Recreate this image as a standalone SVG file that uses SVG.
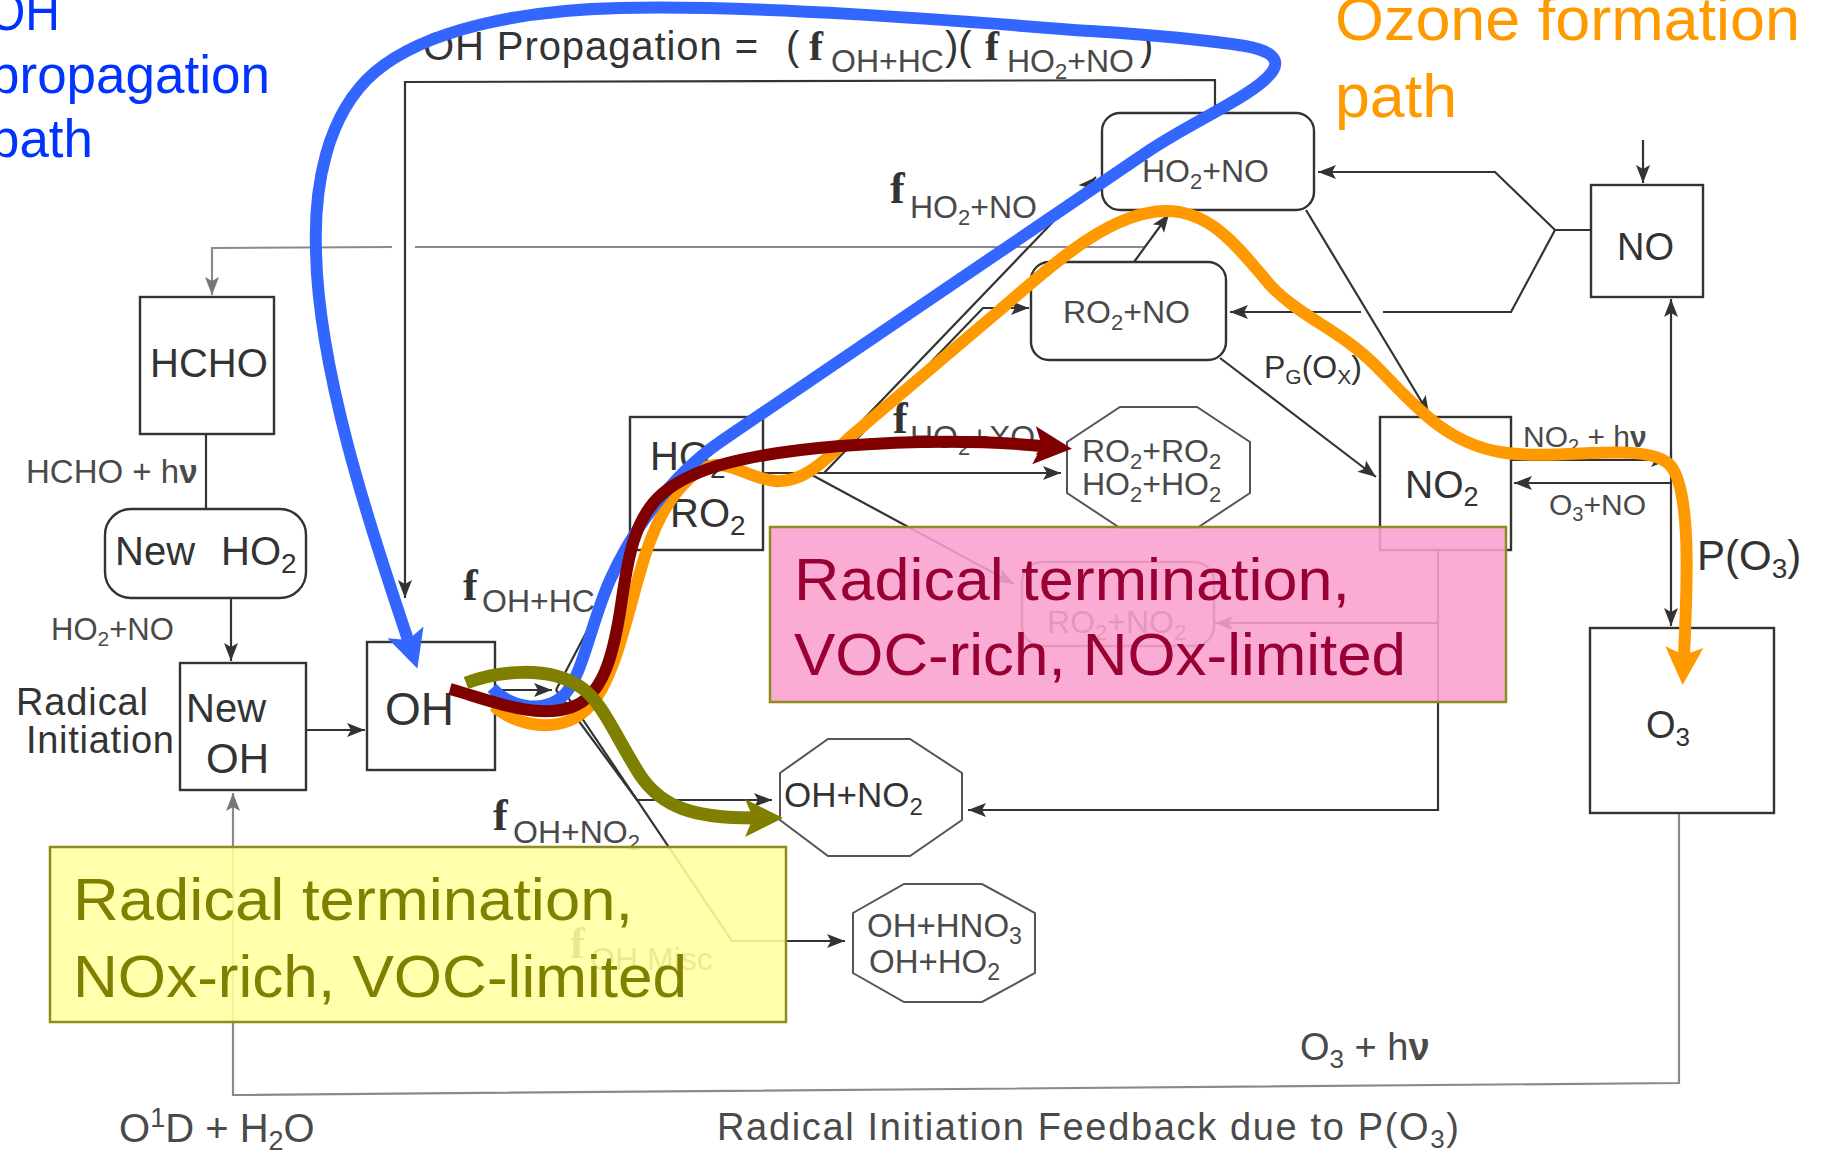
<svg xmlns="http://www.w3.org/2000/svg" width="1825" height="1156" viewBox="0 0 1825 1156">
<defs>
<style>
.ln{fill:none;stroke:#333;stroke-width:2.2}
.lg{fill:none;stroke:#8a8a8a;stroke-width:2.2}
.bx{fill:#fff;stroke:#333;stroke-width:2.4}
.oc{fill:#fff;stroke:#555;stroke-width:2}
.t{font-family:"Liberation Sans",Arial,sans-serif;fill:#333}
.t2{font-family:"Liberation Sans",Arial,sans-serif;fill:#4a4a4a}
.f{font-family:"Liberation Serif","Times New Roman",serif;font-weight:bold;fill:#333}
.cv{fill:none;stroke-linejoin:round}
.ann{font-family:"Liberation Sans Narrow","Liberation Sans",Arial,sans-serif}
</style>
<marker id="ah" viewBox="-2 -9 22 18" refX="18" refY="0" markerWidth="22" markerHeight="18" markerUnits="userSpaceOnUse" orient="auto"><path d="M0,-7 L18,0 L0,7 L4,0 z" fill="#333"/></marker>
<marker id="ahg" viewBox="-2 -9 22 18" refX="18" refY="0" markerWidth="22" markerHeight="18" markerUnits="userSpaceOnUse" orient="auto"><path d="M0,-7 L18,0 L0,7 L4,0 z" fill="#777"/></marker>
<marker id="mb" viewBox="-10 -21 42 42" refX="0" refY="0" markerWidth="42" markerHeight="42" markerUnits="userSpaceOnUse" orient="auto" overflow="visible"><path d="M-8,-19 L30,0 L-8,19 L0,0 z" fill="#3366FF"/></marker>
<marker id="mr" viewBox="-10 -21 42 42" refX="0" refY="0" markerWidth="42" markerHeight="42" markerUnits="userSpaceOnUse" orient="auto" overflow="visible"><path d="M-8,-19 L30,0 L-8,19 L0,0 z" fill="#800000"/></marker>
<marker id="mo" viewBox="-10 -21 42 42" refX="0" refY="0" markerWidth="42" markerHeight="42" markerUnits="userSpaceOnUse" orient="auto" overflow="visible"><path d="M-8,-19 L30,0 L-8,19 L0,0 z" fill="#FF9900"/></marker>
<marker id="mv" viewBox="-10 -21 42 42" refX="0" refY="0" markerWidth="42" markerHeight="42" markerUnits="userSpaceOnUse" orient="auto" overflow="visible"><path d="M-8,-19 L30,0 L-8,19 L0,0 z" fill="#808000"/></marker>
</defs>
<rect x="0" y="0" width="1825" height="1156" fill="#fff"/>

<g id="connectors">
<polyline class="ln" points="1215,113 1215,80 405,82 405,598" marker-end="url(#ah)"/>
<polyline class="lg" points="1144,247 415,247"/>
<polyline class="lg" points="392,247 212,248 212,295" marker-end="url(#ahg)"/>
<line class="ln" x1="206" y1="434" x2="206" y2="509"/>
<line class="ln" x1="231" y1="598" x2="231" y2="661" marker-end="url(#ah)"/>
<line class="ln" x1="306" y1="730" x2="365" y2="730" marker-end="url(#ah)"/>
<line class="ln" x1="495" y1="690" x2="552" y2="690" marker-end="url(#ah)"/>
<line class="ln" x1="556" y1="690" x2="628" y2="553"/>
<polyline class="ln" points="556,690 637,800 772,800" marker-end="url(#ah)"/>
<polyline class="ln" points="563,690 732,941 845,941" marker-end="url(#ah)"/>
<line class="ln" x1="763" y1="473" x2="1061" y2="473" marker-end="url(#ah)"/>
<line class="ln" x1="812" y1="473" x2="1096" y2="177" marker-end="url(#ah)"/>
<polyline class="ln" points="824,473 983,308 1029,308" marker-end="url(#ah)"/>
<line class="ln" x1="812" y1="475" x2="1014" y2="584" marker-end="url(#ah)"/>
<line class="ln" x1="1134" y1="262" x2="1169" y2="214" marker-end="url(#ah)"/>
<line class="ln" x1="1306" y1="210" x2="1429" y2="414" marker-end="url(#ah)"/>
<line class="ln" x1="1220" y1="358" x2="1376" y2="477" marker-end="url(#ah)"/>
<polyline class="ln" points="1591,230 1555,230 1495,172 1318,172" marker-end="url(#ah)"/>
<polyline class="ln" points="1555,230 1511,312 1383,312"/>
<line class="ln" x1="1361" y1="312" x2="1230" y2="312" marker-end="url(#ah)"/>
<line class="ln" x1="1643" y1="140" x2="1643" y2="183" marker-end="url(#ah)"/>
<line class="ln" x1="1671" y1="470" x2="1671" y2="299" marker-end="url(#ah)"/>
<line class="ln" x1="1671" y1="450" x2="1671" y2="626" marker-end="url(#ah)"/>
<line class="ln" x1="1511" y1="460" x2="1669" y2="460" marker-end="url(#ah)"/>
<line class="ln" x1="1671" y1="483" x2="1514" y2="483" marker-end="url(#ah)"/>
<polyline class="ln" points="1438,550 1438,810 968,810" marker-end="url(#ah)"/>
<line class="ln" x1="1438" y1="623" x2="1215" y2="623" marker-end="url(#ah)"/>
<polyline class="lg" points="1679,813 1679,1083 233,1095 233,793" marker-end="url(#ahg)"/>
</g>

<g id="labels">
<text class="t" x="423" y="60" font-size="40" textLength="335">OH Propagation =</text>
<text class="t" x="786" y="60" font-size="40">(</text>
<text class="f" x="809" y="60" font-size="42">f</text>
<text class="t2" x="831" y="72" font-size="32">OH+HC</text>
<text class="t" x="945" y="60" font-size="40">)(</text>
<text class="f" x="985" y="60" font-size="42">f</text>
<text class="t2" x="1007" y="72" font-size="32">HO<tspan font-size="22" dy="7">2</tspan><tspan dy="-7">+NO</tspan></text>
<text class="t" x="1140" y="60" font-size="40">)</text>

<text class="f" x="890" y="203" font-size="44">f</text>
<text class="t2" x="910" y="218" font-size="32">HO<tspan font-size="22" dy="7">2</tspan><tspan dy="-7">+NO</tspan></text>

<text class="f" x="463" y="600" font-size="44">f</text>
<text class="t2" x="482" y="612" font-size="32">OH+HC</text>

<text class="f" x="893" y="433" font-size="44">f</text>
<text class="t2" x="910" y="448" font-size="32">HO<tspan font-size="22" dy="7">2</tspan><tspan dy="-7">+XO</tspan><tspan font-size="22" dy="7">2</tspan></text>

<text class="f" x="493" y="830" font-size="44">f</text>
<text class="t2" x="513" y="843" font-size="32">OH+NO<tspan font-size="22" dy="7">2</tspan></text>

<text class="f" x="570" y="958" font-size="44">f</text>
<text class="t2" x="590" y="970" font-size="32">OH Misc</text>

<text class="t2" x="26" y="483" font-size="33">HCHO + h<tspan font-weight="bold">ν</tspan></text>
<text class="t2" x="51" y="640" font-size="31">HO<tspan font-size="21" dy="6">2</tspan><tspan dy="-6">+NO</tspan></text>
<text class="t" x="16" y="715" font-size="38" textLength="132">Radical</text>
<text class="t" x="26" y="753" font-size="38" textLength="148">Initiation</text>

<text class="t" x="1264" y="378" font-size="32">P<tspan font-size="21" dy="6">G</tspan><tspan dy="-6">(O</tspan><tspan font-size="21" dy="6">X</tspan><tspan dy="-6">)</tspan></text>
<text class="t2" x="1523" y="447" font-size="30">NO<tspan font-size="20" dy="6">2</tspan><tspan dy="-6"> + h</tspan><tspan font-weight="bold">ν</tspan></text>
<text class="t2" x="1549" y="515" font-size="30">O<tspan font-size="20" dy="6">3</tspan><tspan dy="-6">+NO</tspan></text>
<text class="t" x="1697" y="570" font-size="42">P(O<tspan font-size="28" dy="8">3</tspan><tspan dy="-8">)</tspan></text>

<text class="t2" x="1300" y="1060" font-size="38">O<tspan font-size="26" dy="8">3</tspan><tspan dy="-8"> + h</tspan><tspan font-weight="bold">ν</tspan></text>
<text class="t2" x="119" y="1142" font-size="40">O<tspan font-size="27" dy="-15">1</tspan><tspan dy="15">D + H</tspan><tspan font-size="27" dy="8">2</tspan><tspan dy="-8">O</tspan></text>
<text class="t2" x="717" y="1140" font-size="38" textLength="742">Radical Initiation Feedback due to P(O<tspan font-size="26" dy="8">3</tspan><tspan dy="-8">)</tspan></text>
</g>

<g id="node-hcho"><rect class="bx" x="140" y="297" width="134" height="137"/><text class="t" x="150" y="377" font-size="40">HCHO</text></g>
<g id="node-newho2"><rect class="bx" x="105" y="509" width="201" height="89" rx="26"/><text class="t" x="115" y="565" font-size="40">New</text><text class="t" x="221" y="565" font-size="40">HO<tspan font-size="28" dy="8">2</tspan></text></g>
<g id="node-newoh"><rect class="bx" x="180" y="663" width="126" height="127"/><text class="t" x="186" y="722" font-size="40">New</text><text class="t" x="206" y="773" font-size="42">OH</text></g>
<g id="node-oh"><rect class="bx" x="367" y="642" width="128" height="128"/><text class="t" x="385" y="725" font-size="46">OH</text></g>
<g id="node-ho2ro2"><rect class="bx" x="630" y="417" width="133" height="133"/><text class="t" x="650" y="470" font-size="40">HO<tspan font-size="28" dy="8">2</tspan></text><text class="t" x="670" y="527" font-size="40">RO<tspan font-size="28" dy="8">2</tspan></text></g>
<g id="node-ho2no"><rect class="bx" x="1102" y="113" width="212" height="97" rx="18"/><text class="t2" x="1142" y="182" font-size="32">HO<tspan font-size="22" dy="7">2</tspan><tspan dy="-7">+NO</tspan></text></g>
<g id="node-ro2no"><rect class="bx" x="1031" y="262" width="195" height="98" rx="18"/><text class="t2" x="1063" y="323" font-size="32">RO<tspan font-size="22" dy="7">2</tspan><tspan dy="-7">+NO</tspan></text></g>
<g id="node-no"><rect class="bx" x="1591" y="185" width="112" height="112"/><text class="t" x="1617" y="260" font-size="38">NO</text></g>
<g id="node-no2"><rect class="bx" x="1380" y="417" width="131" height="133"/><text class="t" x="1405" y="498" font-size="39">NO<tspan font-size="27" dy="8">2</tspan></text></g>
<g id="node-o3"><rect class="bx" x="1590" y="628" width="184" height="185"/><text class="t" x="1646" y="738" font-size="38">O<tspan font-size="26" dy="8">3</tspan></text></g>
<g id="node-ro2ro2"><polygon class="oc" points="1120,407 1197,407 1250,442 1250,493 1197,528 1120,528 1067,493 1067,442"/><text class="t2" x="1082" y="462" font-size="32">RO<tspan font-size="22" dy="7">2</tspan><tspan dy="-7">+RO</tspan><tspan font-size="22" dy="7">2</tspan></text><text class="t2" x="1082" y="495" font-size="32">HO<tspan font-size="22" dy="7">2</tspan><tspan dy="-7">+HO</tspan><tspan font-size="22" dy="7">2</tspan></text></g>
<g id="node-ohno2"><polygon class="oc" points="828,739 910,739 962,773 962,820 910,856 828,856 780,820 780,773"/><text class="t" x="784" y="807" font-size="35">OH+NO<tspan font-size="24" dy="8">2</tspan></text></g>
<g id="node-ohhno3"><polygon class="oc" points="904,884 982,884 1035,913 1035,973 982,1002 904,1002 853,973 853,913"/><text class="t2" x="867" y="937" font-size="33">OH+HNO<tspan font-size="23" dy="7">3</tspan></text><text class="t2" x="869" y="973" font-size="33">OH+HO<tspan font-size="23" dy="7">2</tspan></text></g>
<g id="node-ro2no2"><rect class="bx" x="1022" y="562" width="192" height="84" rx="20" style="stroke:#555"/><text class="t2" x="1047" y="633" font-size="32">RO<tspan font-size="22" dy="7">2</tspan><tspan dy="-7">+NO</tspan><tspan font-size="22" dy="7">2</tspan></text></g>

<g id="annotation-paths">
<path class="cv" stroke="#FF9900" stroke-width="12" marker-end="url(#mo)" d="M494,706 C512,724 560,738 590,706 C614,680 626,620 640,572 C652,530 668,492 700,470 C725,455 745,478 775,481 C800,483 820,466 850,437 L1000,310 C1060,258 1112,212 1165,211 C1212,210 1240,250 1270,285 C1300,317 1340,330 1375,365 C1410,400 1442,442 1500,452 C1560,462 1645,440 1670,465 C1692,490 1687,590 1684,655"/>
<path class="cv" stroke="#3366FF" stroke-width="12" marker-end="url(#mb)" d="M492,688 C508,705 540,715 562,697 C582,680 590,625 610,580 C630,535 668,478 720,442 L1150,150 C1195,120 1255,95 1272,72 C1282,58 1268,50 1245,46 C1180,36 1120,33 1074,30 C950,20 760,5 620,8 C520,10 425,30 375,72 C325,115 314,190 316,250 C318,380 380,555 408,640"/>
<path class="cv" stroke="#800000" stroke-width="12" marker-end="url(#mr)" d="M450,689 C490,700 535,720 572,707 C603,696 613,655 620,612 C627,565 632,520 662,494 C692,468 745,454 840,446 C920,440 990,441 1042,446"/>
<path class="cv" stroke="#808000" stroke-width="13" marker-end="url(#mv)" d="M466,683 C495,672 548,664 582,688 C602,702 616,737 640,775 C662,808 695,818 753,818"/>
</g>

<g id="note-voc-rich">
<rect x="770" y="527" width="736" height="175" fill="#FBA0CF" fill-opacity="0.88" stroke="#8c8c1f" stroke-width="2.5"/>
<text class="ann" x="794" y="600" font-size="60" fill="#990033" textLength="556" lengthAdjust="spacingAndGlyphs">Radical termination,</text>
<text class="ann" x="794" y="675" font-size="60" fill="#990033" textLength="612" lengthAdjust="spacingAndGlyphs">VOC-rich, NOx-limited</text>
</g>
<g id="note-nox-rich">
<rect x="50" y="847" width="736" height="175" fill="#FFFFA0" fill-opacity="0.88" stroke="#8c8c1f" stroke-width="2.5"/>
<text class="ann" x="73" y="920" font-size="60" fill="#808000" textLength="560" lengthAdjust="spacingAndGlyphs">Radical termination,</text>
<text class="ann" x="73" y="997" font-size="60" fill="#808000" textLength="614" lengthAdjust="spacingAndGlyphs">NOx-rich, VOC-limited</text>
</g>
<g id="title-oh-path">
<text class="ann" x="-12" y="30" font-size="53" fill="#0033FF" textLength="72" lengthAdjust="spacingAndGlyphs">OH</text>
<text class="ann" x="-10" y="93" font-size="53" fill="#0033FF" textLength="280" lengthAdjust="spacingAndGlyphs">propagation</text>
<text class="ann" x="-10" y="157" font-size="53" fill="#0033FF" textLength="103" lengthAdjust="spacingAndGlyphs">path</text>
</g>
<g id="title-ozone-path">
<text class="ann" x="1335" y="40" font-size="62" fill="#FF9900" textLength="465" lengthAdjust="spacingAndGlyphs">Ozone formation</text>
<text class="ann" x="1335" y="117" font-size="62" fill="#FF9900" textLength="122" lengthAdjust="spacingAndGlyphs">path</text>
</g>
</svg>
